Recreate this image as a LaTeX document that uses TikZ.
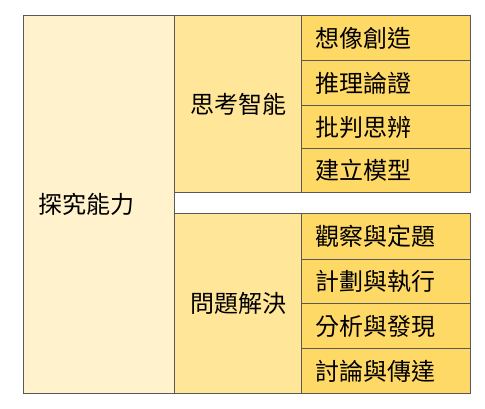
\documentclass[tikz,border=0pt]{standalone}
\usepackage{fontspec}
\setmainfont{Noto Sans CJK TC}
\definecolor{bordercol}{RGB}{89,89,89}
\definecolor{lvlone}{RGB}{255,242,204}
\definecolor{lvltwo}{RGB}{255,230,153}
\definecolor{lvlthree}{RGB}{255,217,102}
\tikzset{
  cellbox/.style={draw=bordercol, line width=1.2pt, anchor=north west, inner xsep=0pt, inner ysep=0pt, font=\fontsize{24}{28}\selectfont},
  rootbox/.style={cellbox, fill=lvlone, minimum width=151pt, minimum height=378pt, text width=151pt, align=left},
  midbox/.style={cellbox, fill=lvltwo, minimum width=127pt, minimum height=#1, text width=127pt, align=center},
  leafbox/.style={cellbox, fill=lvlthree, minimum width=169pt, minimum height=#1, text width=169pt, align=left}
}
\begin{document}
\begin{tikzpicture}[x=1pt,y=-1pt]
\useasboundingbox (0,0) rectangle (485,408);
\node[rootbox] (root) at (23,15) {\hspace*{15pt}探究能力};
\node[midbox=177pt] (think) at (174,15) {思考智能};
\node[midbox=180pt] (solve) at (174,213) {問題解決};
\node[leafbox=45pt] (a1) at (301,15) {\hspace*{14pt}想像創造};
\node[leafbox=45pt] (a2) at (301,60) {\hspace*{14pt}推理論證};
\node[leafbox=43pt] (a3) at (301,105) {\hspace*{14pt}批判思辨};
\node[leafbox=44pt] (a4) at (301,148) {\hspace*{14pt}建立模型};
\node[leafbox=46pt] (b1) at (301,213) {\hspace*{14pt}觀察與定題};
\node[leafbox=44pt] (b2) at (301,259) {\hspace*{14pt}計劃與執行};
\node[leafbox=45pt] (b3) at (301,303) {\hspace*{14pt}分析與發現};
\node[leafbox=45pt] (b4) at (301,348) {\hspace*{14pt}討論與傳達};
\end{tikzpicture}
\end{document}
